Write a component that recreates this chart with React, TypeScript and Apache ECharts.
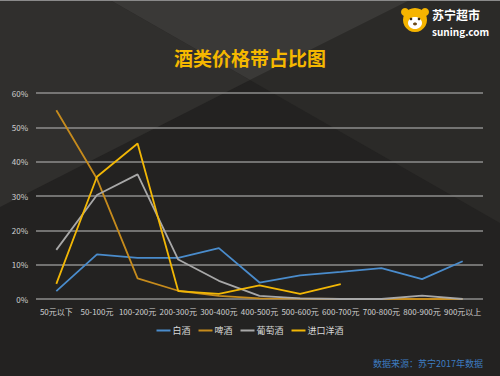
import React, { useEffect, useRef } from "react";
import * as echarts from "echarts";

const categories = ["50元以下", "50-100元", "100-200元", "200-300元", "300-400元", "400-500元", "500-600元", "600-700元", "700-800元", "800-900元", "900元以上"];
const baijiu = [2.3, 13, 12, 12, 14.8, 4.8, 6.9, 7.9, 9, 5.8, 11];
const pijiu = [55, 35, 6, 2.4, 0.9, 0.2, 0.1, 0, 0, 0, 0];
const putaojiu = [14.3, 30.3, 36.3, 11.5, 5.3, 0.9, 0.2, 0, 0, 1, 0];
const jinkou = [4.4, 35.6, 45.3, 2.3, 1.5, 4, 1.5, 4.3, null, null, null];
const seriesNames = ["白酒", "啤酒", "葡萄酒", "进口洋酒"];
const seriesColors = ["#4a8ccc", "#c68b1c", "#a8a8a8", "#f2b705"];
const yTicks = [0, 10, 20, 30, 40, 50, 60];

const FONT = "'Noto Sans CJK SC', 'Noto Sans', sans-serif";

export default function App() {
  const ref = useRef<HTMLDivElement>(null);
  useEffect(() => {
    const chart = echarts.init(ref.current!, null, { renderer: "svg" });
    const data = [baijiu, pijiu, putaojiu, jinkou];
    chart.setOption({
      animation: false,
      backgroundColor: "#232221",
      textStyle: { fontFamily: FONT },
      grid: { left: 36, right: 17, top: 93, bottom: 77 },
      xAxis: {
        type: "category",
        data: categories,
        boundaryGap: true,
        axisLine: { show: false },
        axisTick: { show: false },
        axisLabel: { color: "#d0d0d0", fontSize: 8, margin: 8, interval: 0 },
      },
      yAxis: {
        type: "value",
        min: yTicks[0],
        max: yTicks[yTicks.length - 1],
        interval: 10,
        axisLine: { show: false },
        axisTick: { show: false },
        axisLabel: { color: "#d0d0d0", fontSize: 8, margin: 8, formatter: "{value}%" },
        splitLine: { lineStyle: { color: "#8e8e8c", width: 1.5 } },
      },
      legend: {
        data: seriesNames,
        left: "center",
        top: 321,
        icon: "rect",
        itemWidth: 14,
        itemHeight: 2,
        itemGap: 8,
        textStyle: { color: "#d8d8d8", fontSize: 9, padding: [0, 0, 0, -3] },
      },
      series: seriesNames.map((name, i) => ({
        name,
        type: "line",
        data: data[i],
        symbol: "none",
        connectNulls: false,
        color: seriesColors[i],
        lineStyle: { width: 1.8, color: seriesColors[i] },
        z: i === 3 ? 5 : 3,
      })),
      graphic: [
        {
          type: "polygon",
          z: -100,
          silent: true,
          shape: { points: [[0, 0], [110, 0], [250, 80], [0, 207]] },
          style: { fill: "#302f2d" },
        },
        {
          type: "polygon",
          z: -100,
          silent: true,
          shape: { points: [[410, 0], [500, 0], [500, 223], [250, 80]] },
          style: { fill: "#2b2a28" },
        },
        {
          type: "polygon",
          z: -100,
          silent: true,
          shape: { points: [[110, 0], [410, 0], [250, 80]] },
          style: { fill: "#3a3937" },
        },
        { type: "rect", z: -50, silent: true, shape: { x: 0, y: 0, width: 500, height: 1 }, style: { fill: "#8a8a8a" } },
        // logo
        { type: "circle", shape: { cx: 415, cy: 20, r: 12 }, style: { fill: "#f5b400" } },
        { type: "circle", shape: { cx: 405, cy: 12, r: 4 }, style: { fill: "#f5b400" } },
        { type: "circle", shape: { cx: 425, cy: 12, r: 4 }, style: { fill: "#f5b400" } },
        { type: "ellipse", shape: { cx: 415, cy: 23, rx: 7, ry: 6 }, style: { fill: "#ffffff" } },
        { type: "circle", shape: { cx: 411, cy: 19, r: 1.3 }, style: { fill: "#3a2a10" } },
        { type: "circle", shape: { cx: 419, cy: 19, r: 1.3 }, style: { fill: "#3a2a10" } },
        { type: "ellipse", shape: { cx: 415, cy: 24, rx: 2, ry: 1.4 }, style: { fill: "#6b4a1a" } },
        {
          type: "text",
          x: 432,
          y: 14.5,
          style: { text: "苏宁超市", fill: "#ffffff", font: `bold 12px ${FONT}`, textVerticalAlign: "middle" },
        },
        {
          type: "text",
          x: 432,
          y: 31.5,
          style: { text: "suning.com", fill: "#ffffff", font: `bold 10px ${FONT}`, textVerticalAlign: "middle" },
        },
        {
          type: "text",
          x: 250,
          y: 57,
          style: {
            text: "酒类价格带占比图",
            fill: "#f5b800",
            font: `bold 19px ${FONT}`,
            textAlign: "center",
            textVerticalAlign: "middle",
          },
        },
        {
          type: "text",
          x: 483,
          y: 363,
          style: {
            text: "数据来源：苏宁2017年数据",
            fill: "#3d7cc0",
            font: `9px ${FONT}`,
            textAlign: "right",
            textVerticalAlign: "middle",
          },
        },
      ],
    });
    return () => chart.dispose();
  }, []);
  return (
    <div
      ref={ref}
      style={{ position: "fixed", left: 0, top: 0, width: 500, height: 376 }}
    />
  );
}
